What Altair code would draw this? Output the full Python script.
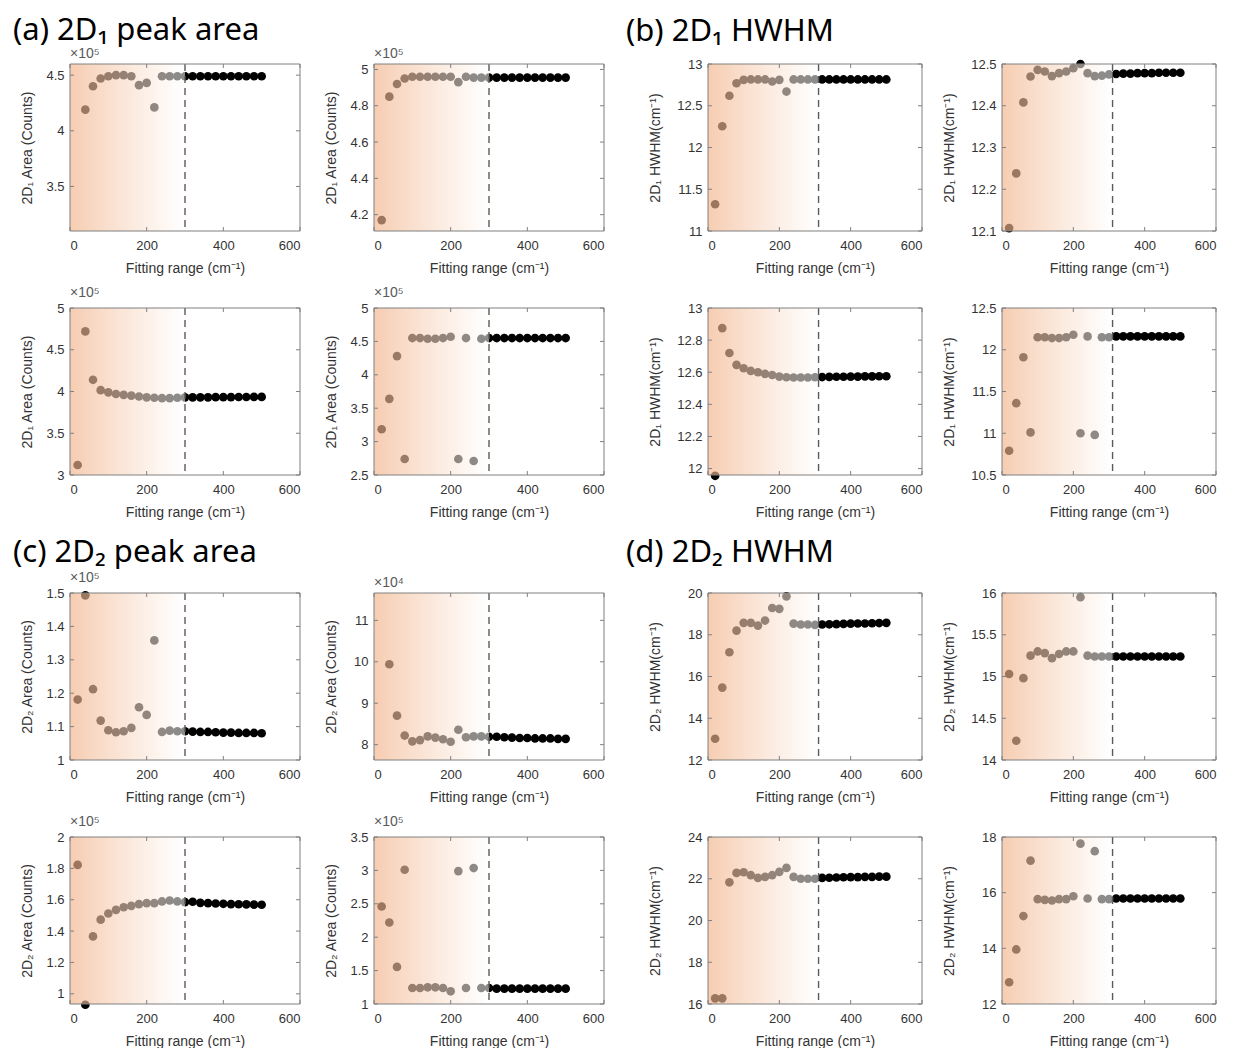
import altair as alt
import pandas as pd

# ---------------- data ----------------
FIT_RANGE = [20, 40, 60, 80, 100, 120, 140, 160, 180, 200, 220, 240, 260,
             280, 300, 320, 340, 360, 380, 400, 420, 440, 460, 480, 500]
X_TICKS = [0, 200, 400, 600]

# (a) 2D1 peak area, x10^5 (x10^4 where noted)
A1 = [None, 4.19, 4.40, 4.47, 4.49, 4.50, 4.50, 4.49, 4.41, 4.43, 4.21, 4.49, 4.49,
      4.49, 4.49, 4.49, 4.49, 4.49, 4.49, 4.49, 4.49, 4.49, 4.49, 4.49, 4.49]
A2 = [4.17, 4.85, 4.92, 4.95, 4.96, 4.96, 4.96, 4.96, 4.96, 4.96, 4.93, 4.96, 4.955,
      4.955, 4.955, 4.955, 4.955, 4.955, 4.955, 4.955, 4.955, 4.955, 4.955, 4.955, 4.955]
A3 = [3.12, 4.72, 4.14, 4.016, 3.99, 3.97, 3.96, 3.95, 3.94, 3.93, 3.925, 3.92, 3.92,
      3.925, 3.93, 3.93, 3.93, 3.93, 3.932, 3.932, 3.933, 3.934, 3.934, 3.935, 3.935]
A4 = [3.185, 3.64, 4.28, 2.74, 4.55, 4.55, 4.54, 4.54, 4.55, 4.57, 2.74, 4.55, 2.71,
      4.54, 4.55, 4.55, 4.55, 4.55, 4.55, 4.55, 4.55, 4.55, 4.55, 4.55, 4.55]

# (b) 2D1 HWHM (cm-1)
B1 = [11.32, 12.255, 12.62, 12.77, 12.81, 12.815, 12.815, 12.815, 12.79, 12.81, 12.67,
      12.815, 12.815, 12.815, 12.815, 12.815, 12.815, 12.815, 12.815, 12.815, 12.815,
      12.815, 12.815, 12.815, 12.815]
B2 = [12.107, 12.238, 12.408, 12.47, 12.486, 12.482, 12.471, 12.478, 12.482, 12.49,
      12.5, 12.478, 12.471, 12.472, 12.475, 12.476, 12.477, 12.477, 12.478, 12.478,
      12.478, 12.479, 12.479, 12.479, 12.479]
B3 = [11.955, 12.875, 12.72, 12.646, 12.625, 12.608, 12.6, 12.59, 12.583, 12.573,
      12.569, 12.567, 12.567, 12.567, 12.569, 12.570, 12.571, 12.572, 12.572, 12.573,
      12.573, 12.574, 12.574, 12.575, 12.575]
B4 = [10.79, 11.36, 11.91, 11.01, 12.15, 12.15, 12.14, 12.14, 12.15, 12.18, 11.0,
      12.16, 10.98, 12.15, 12.15, 12.16, 12.16, 12.16, 12.16, 12.16, 12.16, 12.16,
      12.16, 12.16, 12.16]

# (c) 2D2 peak area
C1 = [1.181, 1.493, 1.212, 1.118, 1.089, 1.083, 1.086, 1.096, 1.158, 1.135, 1.358,
      1.084, 1.088, 1.086, 1.086, 1.085, 1.084, 1.084, 1.083, 1.082, 1.082, 1.081,
      1.081, 1.081, 1.080]
C2 = [None, 9.94, 8.70, 8.22, 8.08, 8.11, 8.20, 8.17, 8.13, 8.07, 8.36, 8.18, 8.20,
      8.20, 8.19, 8.19, 8.18, 8.17, 8.16, 8.16, 8.15, 8.15, 8.15, 8.14, 8.14]
C3 = [1.822, 0.93, 1.366, 1.473, 1.512, 1.535, 1.552, 1.561, 1.572, 1.578, 1.578,
      1.589, 1.595, 1.589, 1.585, 1.587, 1.580, 1.578, 1.576, 1.574, 1.572, 1.571,
      1.570, 1.569, 1.568]
C4 = [2.46, 2.22, 1.555, 3.01, 1.24, 1.24, 1.25, 1.25, 1.24, 1.19, 2.99, 1.24, 3.035,
      1.24, 1.24, 1.23, 1.23, 1.23, 1.23, 1.23, 1.23, 1.23, 1.23, 1.23, 1.23]

# (d) 2D2 HWHM (cm-1)
D1 = [13.02, 15.47, 17.16, 18.2, 18.57, 18.57, 18.44, 18.68, 19.28, 19.24, 19.84,
      18.53, 18.49, 18.49, 18.47, 18.49, 18.5, 18.51, 18.52, 18.53, 18.54, 18.54,
      18.55, 18.56, 18.57]
D2 = [15.03, 14.23, 14.98, 15.25, 15.30, 15.28, 15.22, 15.27, 15.30, 15.30, 15.95,
      15.25, 15.24, 15.24, 15.24, 15.24, 15.24, 15.24, 15.24, 15.24, 15.24, 15.24,
      15.24, 15.24, 15.24]
D3 = [16.27, 16.27, 21.83, 22.28, 22.31, 22.17, 22.04, 22.09, 22.17, 22.33, 22.52,
      22.09, 22.0, 22.0, 22.0, 22.04, 22.05, 22.06, 22.07, 22.08, 22.08, 22.09,
      22.09, 22.1, 22.1]
D4 = [12.78, 13.96, 15.16, 17.15, 15.77, 15.74, 15.72, 15.77, 15.77, 15.87, 17.76,
      15.79, 17.49, 15.77, 15.77, 15.79, 15.79, 15.79, 15.79, 15.79, 15.79, 15.79,
      15.79, 15.79, 15.79]

# y-axis domains and tick labels
A1_DOM, A1_TICKS = [3.1, 4.6], [3.5, 4, 4.5]
A2_DOM, A2_TICKS = [4.11, 5.03], [4.2, 4.4, 4.6, 4.8, 5]
A3_DOM, A3_TICKS = [3, 5], [3, 3.5, 4, 4.5, 5]
A4_DOM, A4_TICKS = [2.5, 5], [2.5, 3, 3.5, 4, 4.5, 5]
B1_DOM, B1_TICKS = [11, 13], [11, 11.5, 12, 12.5, 13]
B2_DOM, B2_TICKS = [12.1, 12.5], [12.1, 12.2, 12.3, 12.4, 12.5]
B3_DOM, B3_TICKS = [11.96, 13], [12, 12.2, 12.4, 12.6, 12.8, 13]
B4_DOM, B4_TICKS = [10.5, 12.5], [10.5, 11, 11.5, 12, 12.5]
C1_DOM, C1_TICKS = [1, 1.5], [1, 1.1, 1.2, 1.3, 1.4, 1.5]
C2_DOM, C2_TICKS = [7.63, 11.66], [8, 9, 10, 11]
C3_DOM, C3_TICKS = [0.935, 2.0], [1, 1.2, 1.4, 1.6, 1.8, 2]
C4_DOM, C4_TICKS = [1, 3.5], [1, 1.5, 2, 2.5, 3, 3.5]
D1_DOM, D1_TICKS = [12, 20], [12, 14, 16, 18, 20]
D2_DOM, D2_TICKS = [14, 16], [14, 14.5, 15, 15.5, 16]
D3_DOM, D3_TICKS = [16, 24], [16, 18, 20, 22, 24]
D4_DOM, D4_TICKS = [12, 18], [12, 14, 16, 18]

# chosen fitting-range limit (dashed line)
LIMIT_AREA = [300]
LIMIT_HWHM = [310]

SECTION_TITLES = ["(a) 2D\u2081 peak area", "(b) 2D\u2081 HWHM",
                  "(c) 2D\u2082 peak area", "(d) 2D\u2082 HWHM"]
X_TITLE = "Fitting range (cm\u207b\u00b9)"
Y_AREA1 = "2D\u2081 Area (Counts)"
Y_HWHM1 = "2D\u2081 HWHM(cm\u207b\u00b9)"
Y_AREA2 = "2D\u2082 Area (Counts)"
Y_HWHM2 = "2D\u2082 HWHM(cm\u207b\u00b9)"
EXP5 = "\u00d710\u2075"
EXP4 = "\u00d710\u2074"

# ---------------- styling ----------------
FONT = "Liberation Sans"
TXT = "#333333"
FRAME = "#808080"
H = 167
TICK_LEN = 4
GRAD = {
    "gradient": "linear", "x1": 0, "y1": 0, "x2": 1, "y2": 0,
    "stops": [
        {"offset": 0, "color": "rgba(241,178,136,0.65)"},
        {"offset": 1, "color": "rgba(255,255,255,0.55)"},
    ],
}


def panel(vals, ytitle, ydom, yticks, limit, expo, width, yext, show_expo=True):
    df = pd.DataFrame({"x": FIT_RANGE, "y": vals}).dropna()
    xs = alt.Scale(domain=[0, 600], nice=False, zero=False)
    ys = alt.Scale(domain=ydom, nice=False, zero=False)
    xaxis = alt.Axis(values=X_TICKS, title=X_TITLE, labelPadding=8,
                     titlePadding=9, ticks=False, tickSize=0, domain=False,
                     grid=False, labelOverlap=False)
    yaxis = alt.Axis(values=yticks, title=ytitle, format="~g", labelPadding=6,
                     titlePadding=6, minExtent=yext, maxExtent=yext,
                     ticks=False, tickSize=0, domain=False, grid=False,
                     labelOverlap=False)
    pts = alt.Chart(df).mark_circle(size=75, color="black", opacity=1).encode(
        x=alt.X("x:Q", scale=xs, axis=xaxis),
        y=alt.Y("y:Q", scale=ys, axis=yaxis),
    )
    lim = pd.DataFrame({"x": [0], "x2": limit})
    shade = alt.Chart(lim).mark_rect(fill=GRAD).encode(
        x=alt.X("x:Q", scale=xs, axis=xaxis),
        x2="x2:Q",
        y=alt.value(0),
        y2=alt.value("height"),
    )
    dash = alt.Chart(lim).mark_rule(color="#5a5a5a", strokeDash=[7, 5],
                                    strokeWidth=1.4).encode(
        x=alt.X("x2:Q", scale=xs, axis=xaxis),
    )
    # inward ticks on all four sides (MATLAB box style)
    xt = pd.DataFrame({"x": X_TICKS})
    yt = pd.DataFrame({"y": yticks})
    xtick_b = alt.Chart(xt).mark_rule(color=FRAME, strokeWidth=1).encode(
        x=alt.X("x:Q", scale=xs, axis=xaxis),
        y=alt.value(H), y2=alt.value(H - TICK_LEN))
    xtick_t = alt.Chart(xt).mark_rule(color=FRAME, strokeWidth=1).encode(
        x=alt.X("x:Q", scale=xs, axis=xaxis),
        y=alt.value(0), y2=alt.value(TICK_LEN))
    ytick_l = alt.Chart(yt).mark_rule(color=FRAME, strokeWidth=1).encode(
        y=alt.Y("y:Q", scale=ys, axis=yaxis),
        x=alt.value(0), x2=alt.value(TICK_LEN))
    ytick_r = alt.Chart(yt).mark_rule(color=FRAME, strokeWidth=1).encode(
        y=alt.Y("y:Q", scale=ys, axis=yaxis),
        x=alt.value(width), x2=alt.value(width - TICK_LEN))
    frame = alt.Chart(lim).mark_rect(fill="transparent", stroke=FRAME,
                                     strokeWidth=1).encode(
        x=alt.value(0), x2=alt.value("width"),
        y=alt.value(0), y2=alt.value("height"),
    )
    return alt.layer(pts, shade, dash, xtick_b, xtick_t, ytick_l, ytick_r,
                     frame).properties(
        width=width, height=H,
        title=alt.TitleParams(expo, anchor="start", frame="group", fontSize=14,
                              font=FONT, fontWeight="normal",
                              color="#595959" if show_expo else "transparent",
                              offset=2),
    )


def section(panels, title, dx, dy, hsp, toff):
    return alt.vconcat(
        alt.hconcat(panels[0], panels[1], spacing=hsp),
        alt.hconcat(panels[2], panels[3], spacing=hsp),
        spacing=11,
        title=alt.TitleParams(title, anchor="start", fontSize=31, font="Noto Sans",
                              fontWeight="normal", color="black", offset=toff,
                              dx=dx, dy=dy),
    )


WA, WB = 230, 214
EA, EB = 30, 40

sec_a = section([
    panel(A1, Y_AREA1, A1_DOM, A1_TICKS, LIMIT_AREA, EXP5, WA, EA),
    panel(A2, Y_AREA1, A2_DOM, A2_TICKS, LIMIT_AREA, EXP5, WA, EA),
    panel(A3, Y_AREA1, A3_DOM, A3_TICKS, LIMIT_AREA, EXP5, WA, EA),
    panel(A4, Y_AREA1, A4_DOM, A4_TICKS, LIMIT_AREA, EXP5, WA, EA),
], SECTION_TITLES[0], -7, 0, 23, 0)

sec_b = section([
    panel(B1, Y_HWHM1, B1_DOM, B1_TICKS, LIMIT_HWHM, EXP5, WB, EB, False),
    panel(B2, Y_HWHM1, B2_DOM, B2_TICKS, LIMIT_HWHM, EXP5, WB, EB, False),
    panel(B3, Y_HWHM1, B3_DOM, B3_TICKS, LIMIT_HWHM, EXP5, WB, EB, False),
    panel(B4, Y_HWHM1, B4_DOM, B4_TICKS, LIMIT_HWHM, EXP5, WB, EB, False),
], SECTION_TITLES[1], -22, 6, 19, 0)

sec_c = section([
    panel(C1, Y_AREA2, C1_DOM, C1_TICKS, LIMIT_AREA, EXP5, WA, EA),
    panel(C2, Y_AREA2, C2_DOM, C2_TICKS, LIMIT_AREA, EXP4, WA, EA),
    panel(C3, Y_AREA2, C3_DOM, C3_TICKS, LIMIT_AREA, EXP5, WA, EA),
    panel(C4, Y_AREA2, C4_DOM, C4_TICKS, LIMIT_AREA, EXP5, WA, EA),
], SECTION_TITLES[2], -7, 0, 23, 2)

sec_d = section([
    panel(D1, Y_HWHM2, D1_DOM, D1_TICKS, LIMIT_HWHM, EXP5, WB, EB, False),
    panel(D2, Y_HWHM2, D2_DOM, D2_TICKS, LIMIT_HWHM, EXP5, WB, EB, False),
    panel(D3, Y_HWHM2, D3_DOM, D3_TICKS, LIMIT_HWHM, EXP5, WB, EB, False),
    panel(D4, Y_HWHM2, D4_DOM, D4_TICKS, LIMIT_HWHM, EXP5, WB, EB, False),
], SECTION_TITLES[3], -22, 0, 19, 2)

chart = alt.vconcat(
    alt.hconcat(sec_a, sec_b, spacing=21),
    alt.hconcat(sec_c, sec_d, spacing=21),
    spacing=18,
).properties(
    padding={"left": 5, "top": 7, "right": 4, "bottom": 0},
).configure_view(stroke=None).configure_axis(
    labelFont=FONT, labelFontSize=13, labelColor=TXT,
    titleFont=FONT, titleFontSize=14, titleColor=TXT, titleFontWeight="normal",
).configure_concat(spacing=10)

chart.save("out.html", embed_options={"renderer": "svg", "actions": False})
